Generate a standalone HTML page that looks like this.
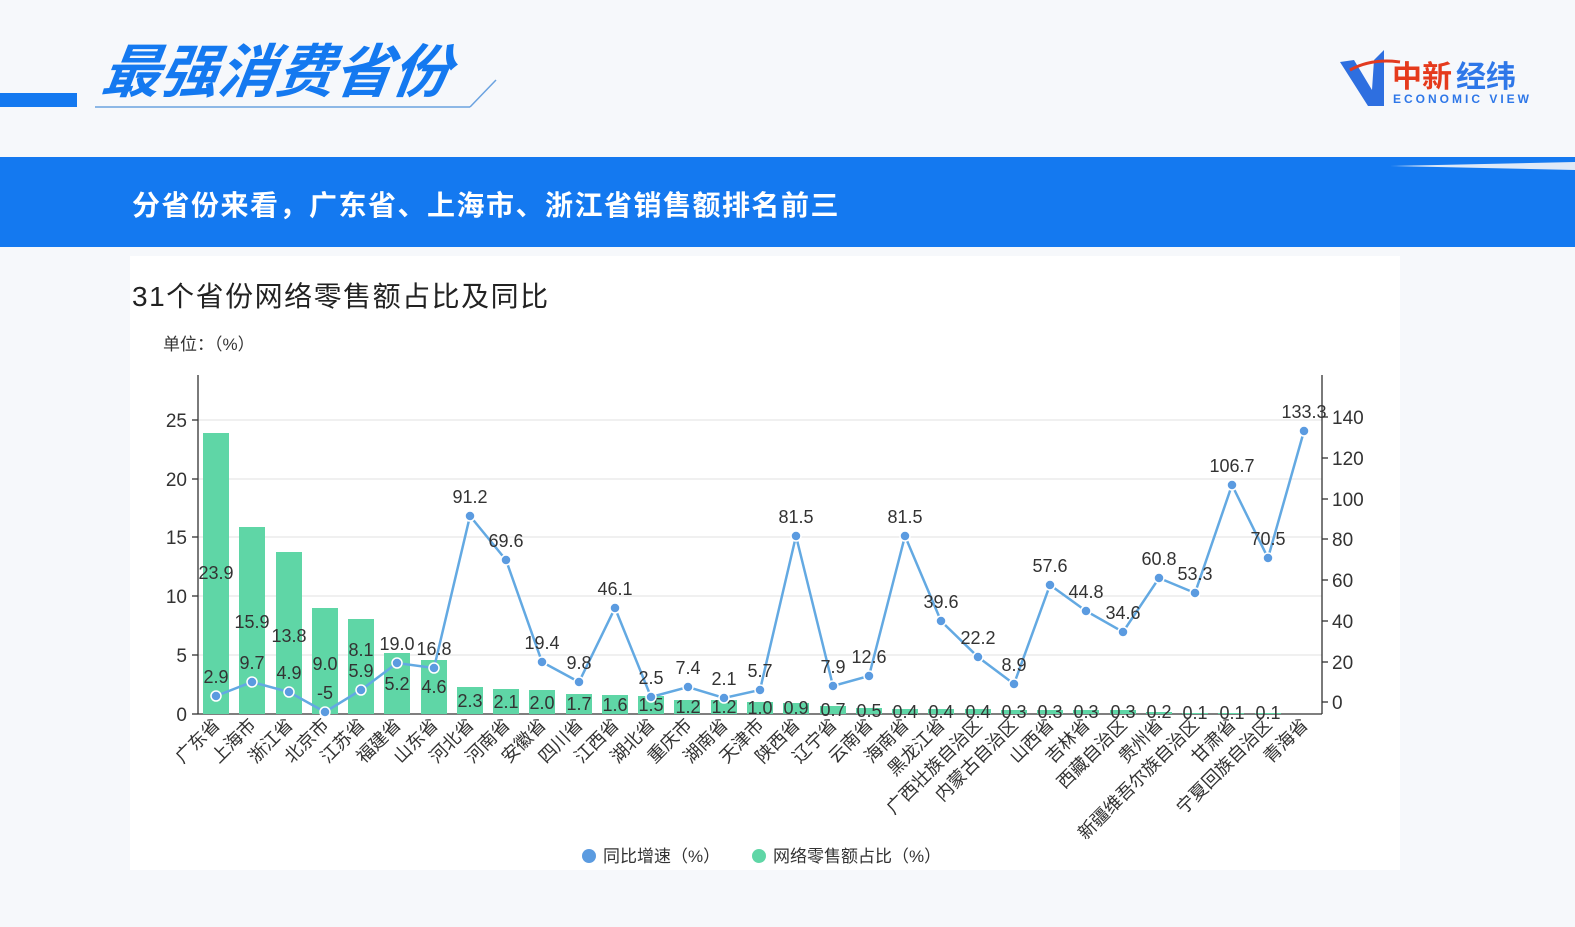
<!DOCTYPE html>
<html><head><meta charset="utf-8"><style>
body{margin:0;width:1575px;height:927px;overflow:hidden;background:#f5f7fa;font-family:"Liberation Sans","Noto Sans CJK SC",sans-serif;}
</style></head><body>
<svg width="1575" height="927" xmlns="http://www.w3.org/2000/svg" style="position:absolute;left:0;top:0" font-family="'Liberation Sans','Noto Sans CJK SC',sans-serif">
<rect width="1575" height="927" fill="#f6f8fb"/>
<rect x="0" y="93" width="77" height="14" fill="#1479f0"/>
<line x1="95" y1="107" x2="470" y2="107" stroke="#6aa2e0" stroke-width="1.5"/>
<line x1="470" y1="107" x2="496" y2="80" stroke="#6aa2e0" stroke-width="1.5"/>
<text x="100" y="92" font-size="58" font-weight="bold" font-style="italic" fill="#1479f0" transform="skewX(-8) translate(13,0)">最强消费省份</text>
<path d="M1340 62 L1354 60 L1372 90 L1374 60 L1384 50 L1384 106 L1368 106 Z" fill="#2e6fe0"/>
<path d="M1350 70 Q1372 58 1400 62" stroke="#e23a20" stroke-width="3" fill="none"/>
<text x="1392" y="87" font-size="30" font-weight="bold" fill="#e53a1c">中新</text>
<text x="1456" y="87" font-size="30" font-weight="bold" fill="#2e77e8">经纬</text>
<text x="1393" y="103" font-size="12" font-weight="bold" fill="#2e77e8" letter-spacing="3">ECONOMIC VIEW</text>
<rect x="0" y="157" width="1575" height="90" fill="#1479f0"/>
<path d="M1390 166 L1575 162 L1575 170 Z" fill="#dfe9f7"/>
<text x="132" y="215" font-size="28" font-weight="bold" fill="#fff" letter-spacing="1.5">分省份来看，广东省、上海市、浙江省销售额排名前三</text>
<rect x="130" y="256" width="1270" height="614" fill="#fff"/>
<text x="132" y="306" font-size="28" fill="#222" letter-spacing="1.5">31个省份网络零售额占比及同比</text>
<text x="163" y="350" font-size="17" fill="#333">单位：（%）</text>
<g stroke="#e0e0e0" stroke-width="1">
<line x1="198" y1="420" x2="1322" y2="420"/><line x1="198" y1="479" x2="1322" y2="479"/><line x1="198" y1="537" x2="1322" y2="537"/><line x1="198" y1="596" x2="1322" y2="596"/><line x1="198" y1="655" x2="1322" y2="655"/>
</g>
<g stroke="#333" stroke-width="1.3">
<line x1="198" y1="375" x2="198" y2="714"/><line x1="1322" y1="375" x2="1322" y2="714"/><line x1="198" y1="714" x2="1322" y2="714"/>
<line x1="192" y1="420" x2="198" y2="420"/><line x1="192" y1="479" x2="198" y2="479"/><line x1="192" y1="537" x2="198" y2="537"/><line x1="192" y1="596" x2="198" y2="596"/><line x1="192" y1="655" x2="198" y2="655"/><line x1="192" y1="714" x2="198" y2="714"/>
<line x1="1322" y1="417" x2="1328" y2="417"/><line x1="1322" y1="458" x2="1328" y2="458"/><line x1="1322" y1="499" x2="1328" y2="499"/><line x1="1322" y1="539" x2="1328" y2="539"/><line x1="1322" y1="580" x2="1328" y2="580"/><line x1="1322" y1="621" x2="1328" y2="621"/><line x1="1322" y1="662" x2="1328" y2="662"/><line x1="1322" y1="702" x2="1328" y2="702"/>
</g>
<g font-size="19" fill="#333" text-anchor="end">
<text x="187" y="427">25</text><text x="187" y="486">20</text><text x="187" y="544">15</text><text x="187" y="603">10</text><text x="187" y="662">5</text><text x="187" y="721">0</text>
</g>
<g font-size="19" fill="#333">
<text x="1332" y="424">140</text><text x="1332" y="465">120</text><text x="1332" y="506">100</text><text x="1332" y="546">80</text><text x="1332" y="587">60</text><text x="1332" y="628">40</text><text x="1332" y="669">20</text><text x="1332" y="709">0</text>
</g>
<g fill="#5fd6a6">
<rect x="203" y="433" width="26" height="281"/><rect x="239" y="527" width="26" height="187"/><rect x="276" y="552" width="26" height="162"/><rect x="312" y="608" width="26" height="106"/><rect x="348" y="619" width="26" height="95"/><rect x="384" y="653" width="26" height="61"/><rect x="421" y="660" width="26" height="54"/><rect x="457" y="687" width="26" height="27"/><rect x="493" y="689" width="26" height="25"/><rect x="529" y="690" width="26" height="24"/><rect x="566" y="694" width="26" height="20"/><rect x="602" y="695" width="26" height="19"/><rect x="638" y="696" width="26" height="18"/><rect x="674" y="700" width="26" height="14"/><rect x="711" y="700" width="26" height="14"/><rect x="747" y="702" width="26" height="12"/><rect x="783" y="703" width="26" height="11"/><rect x="820" y="706" width="26" height="8"/><rect x="856" y="708" width="26" height="6"/><rect x="892" y="709" width="26" height="5"/><rect x="928" y="709" width="26" height="5"/><rect x="965" y="709" width="26" height="5"/><rect x="1001" y="710" width="26" height="4"/><rect x="1037" y="710" width="26" height="4"/><rect x="1073" y="710" width="26" height="4"/><rect x="1110" y="710" width="26" height="4"/><rect x="1146" y="712" width="26" height="2"/><rect x="1182" y="713" width="26" height="1"/><rect x="1218" y="713" width="26" height="1"/><rect x="1255" y="713" width="26" height="1"/>
</g>
<g font-size="18" fill="#333" text-anchor="middle">
<text x="216" y="579">23.9</text><text x="252" y="628">15.9</text><text x="289" y="642">13.8</text><text x="325" y="670">9.0</text><text x="361" y="656">8.1</text><text x="397" y="690">5.2</text><text x="434" y="693">4.6</text><text x="470" y="707">2.3</text><text x="506" y="708">2.1</text><text x="542" y="709">2.0</text><text x="579" y="710">1.7</text><text x="615" y="711">1.6</text><text x="651" y="711">1.5</text><text x="688" y="713">1.2</text><text x="724" y="713">1.2</text><text x="760" y="714">1.0</text><text x="796" y="714">0.9</text><text x="833" y="716">0.7</text><text x="869" y="717">0.5</text><text x="905" y="718">0.4</text><text x="941" y="718">0.4</text><text x="978" y="718">0.4</text><text x="1014" y="718">0.3</text><text x="1050" y="718">0.3</text><text x="1086" y="718">0.3</text><text x="1123" y="718">0.3</text><text x="1159" y="718">0.2</text><text x="1195" y="719">0.1</text><text x="1232" y="719">0.1</text><text x="1268" y="719">0.1</text>
</g>
<polyline fill="none" stroke="#63a9e2" stroke-width="2.5" points="216,696 252,682 289,692 325,712 361,690 397,663 434,668 470,516 506,560 542,662 579,682 615,608 651,697 688,687 724,698 760,690 796,536 833,686 869,676 905,536 941,621 978,657 1014,684 1050,585 1086,611 1123,632 1159,578 1195,593 1232,485 1268,558 1304,431"/>
<g fill="#5b9be0" stroke="#fff" stroke-width="1.5">
<circle cx="216" cy="696" r="5"/><circle cx="252" cy="682" r="5"/><circle cx="289" cy="692" r="5"/><circle cx="325" cy="712" r="5"/><circle cx="361" cy="690" r="5"/><circle cx="397" cy="663" r="5"/><circle cx="434" cy="668" r="5"/><circle cx="470" cy="516" r="5"/><circle cx="506" cy="560" r="5"/><circle cx="542" cy="662" r="5"/><circle cx="579" cy="682" r="5"/><circle cx="615" cy="608" r="5"/><circle cx="651" cy="697" r="5"/><circle cx="688" cy="687" r="5"/><circle cx="724" cy="698" r="5"/><circle cx="760" cy="690" r="5"/><circle cx="796" cy="536" r="5"/><circle cx="833" cy="686" r="5"/><circle cx="869" cy="676" r="5"/><circle cx="905" cy="536" r="5"/><circle cx="941" cy="621" r="5"/><circle cx="978" cy="657" r="5"/><circle cx="1014" cy="684" r="5"/><circle cx="1050" cy="585" r="5"/><circle cx="1086" cy="611" r="5"/><circle cx="1123" cy="632" r="5"/><circle cx="1159" cy="578" r="5"/><circle cx="1195" cy="593" r="5"/><circle cx="1232" cy="485" r="5"/><circle cx="1268" cy="558" r="5"/><circle cx="1304" cy="431" r="5"/>
</g>
<g font-size="18" fill="#333" text-anchor="middle">
<text x="216" y="683">2.9</text><text x="252" y="669">9.7</text><text x="289" y="679">4.9</text><text x="325" y="699">-5</text><text x="361" y="677">5.9</text><text x="397" y="650">19.0</text><text x="434" y="655">16.8</text><text x="470" y="503">91.2</text><text x="506" y="547">69.6</text><text x="542" y="649">19.4</text><text x="579" y="669">9.8</text><text x="615" y="595">46.1</text><text x="651" y="684">2.5</text><text x="688" y="674">7.4</text><text x="724" y="685">2.1</text><text x="760" y="677">5.7</text><text x="796" y="523">81.5</text><text x="833" y="673">7.9</text><text x="869" y="663">12.6</text><text x="905" y="523">81.5</text><text x="941" y="608">39.6</text><text x="978" y="644">22.2</text><text x="1014" y="671">8.9</text><text x="1050" y="572">57.6</text><text x="1086" y="598">44.8</text><text x="1123" y="619">34.6</text><text x="1159" y="565">60.8</text><text x="1195" y="580">53.3</text><text x="1232" y="472">106.7</text><text x="1268" y="545">70.5</text><text x="1304" y="418">133.3</text>
</g>
<g font-size="18" fill="#333" text-anchor="end">
<text transform="translate(221,726) rotate(-45)">广东省</text><text transform="translate(257,726) rotate(-45)">上海市</text><text transform="translate(294,726) rotate(-45)">浙江省</text><text transform="translate(330,726) rotate(-45)">北京市</text><text transform="translate(366,726) rotate(-45)">江苏省</text><text transform="translate(402,726) rotate(-45)">福建省</text><text transform="translate(439,726) rotate(-45)">山东省</text><text transform="translate(475,726) rotate(-45)">河北省</text><text transform="translate(511,726) rotate(-45)">河南省</text><text transform="translate(547,726) rotate(-45)">安徽省</text><text transform="translate(584,726) rotate(-45)">四川省</text><text transform="translate(620,726) rotate(-45)">江西省</text><text transform="translate(656,726) rotate(-45)">湖北省</text><text transform="translate(693,726) rotate(-45)">重庆市</text><text transform="translate(729,726) rotate(-45)">湖南省</text><text transform="translate(765,726) rotate(-45)">天津市</text><text transform="translate(801,726) rotate(-45)">陕西省</text><text transform="translate(838,726) rotate(-45)">辽宁省</text><text transform="translate(874,726) rotate(-45)">云南省</text><text transform="translate(910,726) rotate(-45)">海南省</text><text transform="translate(946,726) rotate(-45)">黑龙江省</text><text transform="translate(983,726) rotate(-45)">广西壮族自治区</text><text transform="translate(1019,726) rotate(-45)">内蒙古自治区</text><text transform="translate(1055,726) rotate(-45)">山西省</text><text transform="translate(1091,726) rotate(-45)">吉林省</text><text transform="translate(1128,726) rotate(-45)">西藏自治区</text><text transform="translate(1164,726) rotate(-45)">贵州省</text><text transform="translate(1200,726) rotate(-45)">新疆维吾尔族自治区</text><text transform="translate(1237,726) rotate(-45)">甘肃省</text><text transform="translate(1273,726) rotate(-45)">宁夏回族自治区</text><text transform="translate(1309,726) rotate(-45)">青海省</text>
</g>
<circle cx="589" cy="856" r="7" fill="#5b9be0"/>
<text x="603" y="862" font-size="17" fill="#333">同比增速（%）</text>
<circle cx="759" cy="856" r="7" fill="#5fd6a6"/>
<text x="773" y="862" font-size="17" fill="#333">网络零售额占比（%）</text>
</svg>
</body></html>
